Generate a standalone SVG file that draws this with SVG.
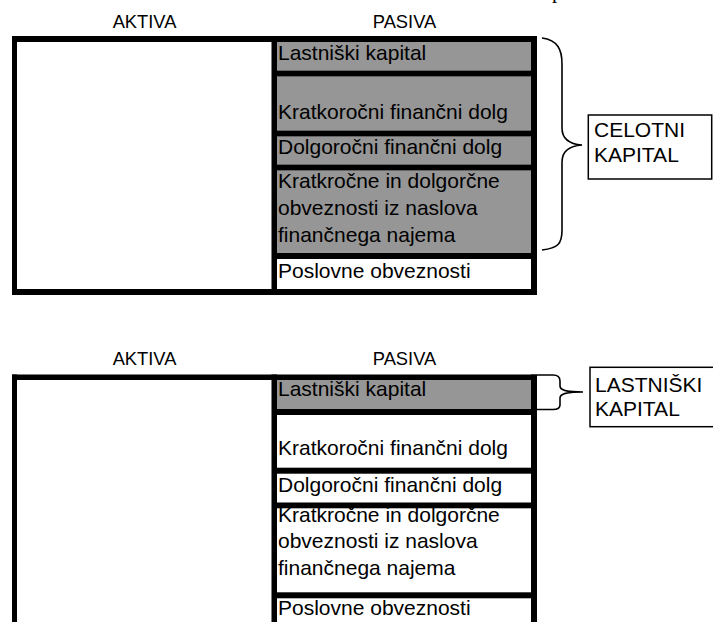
<svg xmlns="http://www.w3.org/2000/svg" width="713" height="622" viewBox="0 0 713 622">
<style>
  .t { font-family: "Liberation Sans", Arial, sans-serif; font-size: 21px; fill: #000; }
  .h { font-family: "Liberation Sans", Arial, sans-serif; font-size: 18.3px; fill: #000; text-anchor: middle; }
  .b { fill: #000; }
  .g { fill: #969696; }
  .w { fill: #fff; }
  .brace { fill: none; stroke: #000; stroke-width: 1.6; }
  .box { fill: #fff; stroke: #000; stroke-width: 1.5; }
</style>
<rect x="0" y="0" width="713" height="622" fill="#fff"/>
<text x="552" y="-2.5" style="font-family:'Liberation Serif','Times New Roman',serif;font-size:21px">p</text>

<!-- TOP DIAGRAM -->
<g id="top-headers">
  <text class="h" x="144.5" y="28.3">AKTIVA</text>
  <text class="h" x="404.5" y="28.3">PASIVA</text>
</g>
<g id="top-cells">
  <g id="top-lastniski"><rect class="g" x="277" y="42" width="254" height="28.5"/><text class="t" x="278" y="60">Lastniški kapital</text></g>
  <g id="top-kratkorocni"><rect class="g" x="277" y="76.5" width="254" height="54"/><text class="t" x="278" y="119">Kratkoročni finančni dolg</text></g>
  <g id="top-dolgorocni"><rect class="g" x="277" y="136.5" width="254" height="28"/><text class="t" x="278" y="154">Dolgoročni finančni dolg</text></g>
  <g id="top-najem"><rect class="g" x="277" y="170.5" width="254" height="82.5"/>
    <text class="t" x="278" y="188.3">Kratkročne in dolgorčne</text>
    <text class="t" x="278" y="215">obveznosti iz naslova</text>
    <text class="t" x="278" y="241.7">finančnega najema</text></g>
  <g id="top-poslovne"><text class="t" x="278" y="277.7">Poslovne obveznosti</text></g>
</g>
<g id="top-frame">
  <rect class="b" x="12" y="36" width="525" height="6"/>
  <rect class="b" x="12" y="289" width="525" height="6"/>
  <rect class="b" x="12" y="36" width="5" height="259"/>
  <rect class="b" x="271.5" y="36" width="5.5" height="259"/>
  <rect class="b" x="531" y="36" width="6" height="259"/>
  <rect class="b" x="277" y="70.5" width="254" height="6"/>
  <rect class="b" x="277" y="130.5" width="254" height="6"/>
  <rect class="b" x="277" y="164.5" width="254" height="6"/>
  <rect class="b" x="277" y="253" width="254" height="6"/>
</g>
<g id="top-label">
  <rect class="box" x="588.3" y="115" width="123.4" height="64"/>
  <text class="t" x="594" y="136.7">CELOTNI</text>
  <text class="t" x="594" y="162.3">KAPITAL</text>
</g>

<!-- BOTTOM DIAGRAM -->
<g id="bottom-headers">
  <text class="h" x="144.5" y="365">AKTIVA</text>
  <text class="h" x="404.5" y="365">PASIVA</text>
</g>
<g id="bottom-cells">
  <g id="bot-lastniski"><rect class="g" x="277" y="380" width="254" height="29"/><text class="t" x="278" y="395.7">Lastniški kapital</text></g>
  <g id="bot-kratkorocni"><text class="t" x="278" y="455">Kratkoročni finančni dolg</text></g>
  <g id="bot-dolgorocni"><text class="t" x="278" y="491.7">Dolgoročni finančni dolg</text></g>
  <g id="bot-najem">
    <text class="t" x="278" y="521.7">Kratkročne in dolgorčne</text>
    <text class="t" x="278" y="548.3">obveznosti iz naslova</text>
    <text class="t" x="278" y="575">finančnega najema</text></g>
  <g id="bot-poslovne"><text class="t" x="278" y="615">Poslovne obveznosti</text></g>
</g>
<g id="bottom-frame">
  <rect class="b" x="12" y="374.5" width="525" height="5.5"/>
  <rect class="b" x="12" y="374.5" width="5" height="248"/>
  <rect class="b" x="271.5" y="374.5" width="5.5" height="248"/>
  <rect class="b" x="531" y="374.5" width="6" height="248"/>
  <rect class="b" x="277" y="409" width="254" height="6"/>
  <rect class="b" x="277" y="467.7" width="254" height="6"/>
  <rect class="b" x="277" y="502.5" width="254" height="5.8"/>
  <rect class="b" x="277" y="592.3" width="254" height="6"/>
</g>
<g id="bottom-label">
  <rect class="box" x="590" y="367.3" width="130" height="59.4"/>
  <text class="t" x="595" y="391.7">LASTNIŠKI</text>
  <text class="t" x="595" y="415.7">KAPITAL</text>
</g>

<g id="connectors">
  <path class="brace" d="M542,38 C558,40 562,50 562,64 L562,128 C562,138 568,144 582,145 C568,146 562,152 562,162 L562,230 C562,244 558,248 542,250"/>
  <path class="brace" d="M537,375 L553,375 C558,375 560,377 560,381 L560,386 C560,390 565,392 583,392 C565,392 560,394 560,398 L560,405 C560,408 558,409.5 553,409.5 L537,409.5"/>
</g>
</svg>
